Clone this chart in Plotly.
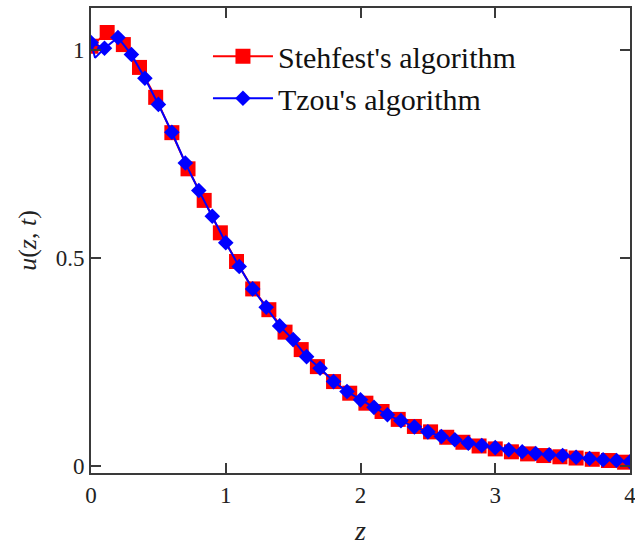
import plotly.graph_objects as go

# Stehfest's algorithm (red squares), step 0.12
stehfest_z = [0.00, 0.12, 0.24, 0.36, 0.48, 0.60, 0.72, 0.84, 0.96, 1.08, 1.20, 1.32,
              1.44, 1.56, 1.68, 1.80, 1.92, 2.04, 2.16, 2.28, 2.40, 2.52, 2.64, 2.76,
              2.88, 3.00, 3.12, 3.24, 3.36, 3.48, 3.60, 3.72, 3.84, 3.96]
stehfest_u = [1.010, 1.043, 1.014, 0.959, 0.887, 0.802, 0.715, 0.639, 0.561, 0.492, 0.426, 0.376,
              0.322, 0.280, 0.239, 0.203, 0.175, 0.151, 0.131, 0.112, 0.095, 0.082, 0.069, 0.057,
              0.048, 0.041, 0.034, 0.029, 0.025, 0.022, 0.019, 0.016, 0.013, 0.009]

# Tzou's algorithm (blue diamonds), step 0.1
tzou_z = [0.0, 0.1, 0.2, 0.3, 0.4, 0.5, 0.6, 0.7, 0.8, 0.9, 1.0, 1.1, 1.2, 1.3, 1.4,
          1.5, 1.6, 1.7, 1.8, 1.9, 2.0, 2.1, 2.2, 2.3, 2.4, 2.5, 2.6, 2.7, 2.8, 2.9,
          3.0, 3.1, 3.2, 3.3, 3.4, 3.5, 3.6, 3.7, 3.8, 3.9, 4.0]
tzou_u = [1.019, 1.005, 1.031, 0.990, 0.933, 0.870, 0.803, 0.729, 0.663, 0.601, 0.537, 0.480,
          0.426, 0.382, 0.337, 0.304, 0.263, 0.235, 0.203, 0.179, 0.159, 0.141, 0.123, 0.109,
          0.094, 0.082, 0.071, 0.063, 0.055, 0.049, 0.044, 0.039, 0.034, 0.030, 0.027, 0.025,
          0.021, 0.018, 0.015, 0.013, 0.010]

# fine-resolution line detail of Tzou's curve near z = 0
tzou_fine_z = [0.0, 0.03, 0.1]
tzou_fine_u = [1.019, 0.982, 1.005]

x_ticks = [0, 1, 2, 3, 4]
y_ticks = [0, 0.5, 1]
y_tick_labels = ["0", "0.5", "1"]

fig = go.Figure()
fig.add_trace(go.Scatter(
    x=stehfest_z, y=stehfest_u, mode="lines+markers", name="Stehfest's algorithm",
    line=dict(color="#ff0000", width=2),
    marker=dict(symbol="square", size=15, color="#ff0000"),
))
fig.add_trace(go.Scatter(
    x=tzou_fine_z, y=tzou_fine_u, mode="lines", showlegend=False,
    line=dict(color="#0000ff", width=2), hoverinfo="skip",
))
fig.add_trace(go.Scatter(
    x=tzou_z, y=tzou_u, mode="lines+markers", name="Tzou's algorithm",
    line=dict(color="#0000ff", width=2),
    marker=dict(symbol="diamond", size=12, color="#0000ff"),
))

axis_common = dict(
    showgrid=False, zeroline=False, showline=True, linecolor="#3a3a3a", linewidth=2,
    mirror="ticks", ticks="inside", ticklen=10, tickwidth=2, tickcolor="#3a3a3a",
    tickfont=dict(family="Liberation Serif", size=23, color="#222"),
    automargin=False, ticklabeloverflow="allow",
)

fig.update_layout(
    width=635, height=546,
    margin=dict(l=91, r=5, t=8, b=73, autoexpand=False),
    paper_bgcolor="white", plot_bgcolor="white",
    xaxis=dict(range=[0, 4], tickvals=x_ticks, ticktext=[str(v) for v in x_ticks],
               title=dict(text="<i>z</i>", font=dict(family="Liberation Serif", size=28, color="#222"),
                          standoff=20),
               **axis_common),
    yaxis=dict(range=[-0.017, 1.102], tickvals=y_ticks, ticktext=y_tick_labels,
               title=dict(text="<i>u</i>(<i>z</i>, <i>t</i>)", font=dict(family="Liberation Serif", size=26, color="#222"),
                          standoff=12),
               **axis_common),
    legend=dict(x=0.217, y=0.952, xanchor="left", yanchor="top",
                font=dict(family="Liberation Serif", size=30, color="#111"),
                bgcolor="rgba(0,0,0,0)", itemwidth=60, tracegroupgap=0),
    showlegend=True,
)

fig.write_html("out.html", config={"displayModeBar": False},
               post_script="document.body.style.margin='0';document.body.style.overflow='hidden';")
